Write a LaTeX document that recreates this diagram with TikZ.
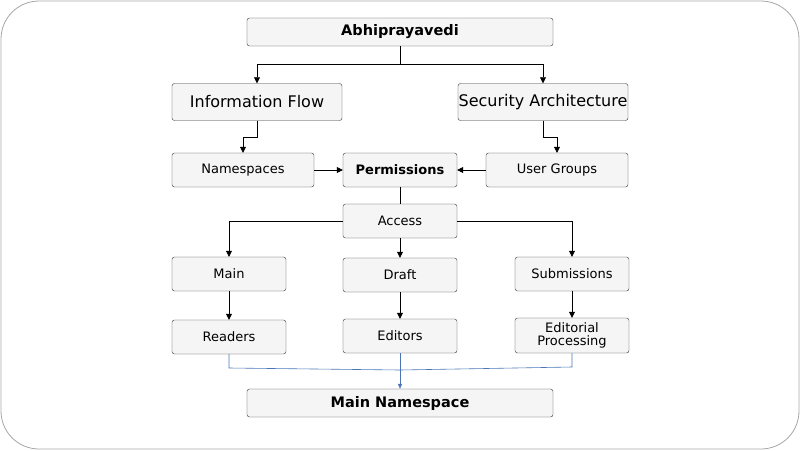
\documentclass[tikz,border=0pt]{standalone}
\usepackage{fontspec}
\setmainfont{DejaVu Sans}
\usetikzlibrary{arrows.meta}
\begin{document}
\begin{tikzpicture}[x=1pt,y=-1pt,
  box/.style={draw=black!80,fill=gray!8,rounded corners=2.5pt,inner sep=0pt,font=\fontsize{13}{14}\selectfont,align=center},
  big/.style={box,font=\fontsize{16}{18}\selectfont},
  arr/.style={-{Triangle[length=6pt,width=6pt]},line width=0.7pt},
  ln/.style={line width=0.7pt},
  blue/.style={draw={rgb,255:red,74;green,118;blue,184},line width=0.6pt}]
\useasboundingbox (0,0) rectangle (800,450);
\draw[gray!70,line width=0.8pt,rounded corners=38pt] (1,1) rectangle (799,449);
\node[box,font=\fontsize{14.5}{16}\selectfont\bfseries,minimum width=306pt,minimum height=28pt] (ab) at (400,32) {Abhiprayavedi};
\node[big,minimum width=170pt,minimum height=37pt] (if) at (257,102) {Information Flow};
\node[big,minimum width=170pt,minimum height=37pt] (sa) at (543,102) {Security Architecture};
\node[box,minimum width=142pt,minimum height=34pt] (ns) at (243,170) {Namespaces};
\node[box,font=\fontsize{13}{14}\selectfont\bfseries,minimum width=114pt,minimum height=34pt] (pe) at (400,170) {Permissions};
\node[box,minimum width=142pt,minimum height=34pt] (ug) at (557,170) {User Groups};
\node[box,minimum width=114pt,minimum height=34pt] (ac) at (400,221) {Access};
\node[box,minimum width=114pt,minimum height=34pt] (ma) at (229,274) {Main};
\node[box,minimum width=114pt,minimum height=34pt] (dr) at (400,275) {Draft};
\node[box,minimum width=114pt,minimum height=34pt] (su) at (572,274) {Submissions};
\node[box,minimum width=114pt,minimum height=34pt] (re) at (229,337) {Readers};
\node[box,minimum width=114pt,minimum height=34pt] (ed) at (400,336) {Editors};
\node[box,font=\fontsize{13}{13}\selectfont,minimum width=114pt,minimum height=35pt] (ep) at (572,335.5) {Editorial\\Processing};
\node[box,font=\fontsize{14.5}{16}\selectfont\bfseries,minimum width=306pt,minimum height=28pt] (mn) at (400,403) {Main Namespace};
\draw[ln] (ab.south) -- (400,64);
\draw[arr] (400,64) -| (if.north);
\draw[arr] (400,64) -| (sa.north);
\draw[arr] (if.south) -- (257,137) -| (ns.north);
\draw[arr] (sa.south) -- (543,137) -| (ug.north);
\draw[arr] (ns.east) -- (pe.west);
\draw[arr] (ug.west) -- (pe.east);
\draw[ln] (pe.south) -- (ac.north);
\draw[arr] (ac.west) -| (ma.north);
\draw[arr] (ac.east) -| (su.north);
\draw[arr] (ac.south) -- (dr.north);
\draw[arr] (ma.south) -- (re.north);
\draw[arr] (dr.south) -- (ed.north);
\draw[arr] (su.south) -- (ep.north);
\draw[blue] (re.south) -- (229,368) -- (400,370);
\draw[blue] (ep.south) -- (572,367) -- (400,370);
\draw[blue,-{Triangle[length=5pt,width=4pt]},fill={rgb,255:red,74;green,118;blue,184}] (ed.south) -- (mn.north);
\end{tikzpicture}
\end{document}
